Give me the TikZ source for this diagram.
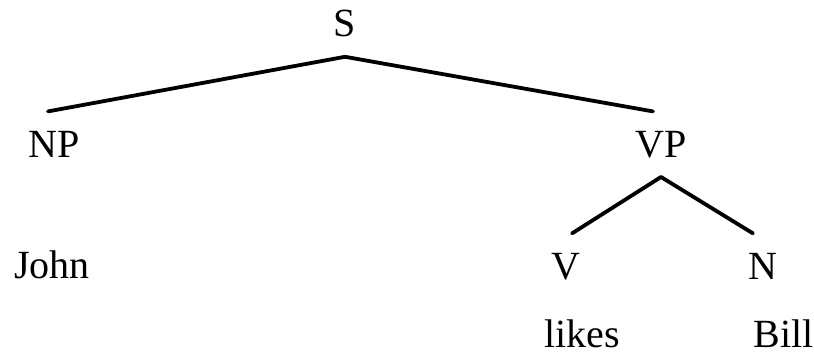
\documentclass[tikz,border=0pt]{standalone}
\usepackage{fontspec}
\setmainfont{Liberation Serif}
\tikzset{
  cat/.style={anchor=base, inner sep=9.5pt, font=\fontsize{20}{24}\selectfont},
  branch/.style={line width=1.9pt, line cap=round}
}
\begin{document}
\begin{tikzpicture}[x=0.5pt, y=-0.5pt]
  \useasboundingbox (0,0) rectangle (814,353);
  % Categories
  \node[cat] (S) at (345,37) {S};
  \node[cat] (NP) at (54,157) {NP};
  \node[cat] (VP) at (661,157) {VP};
  \node[cat] (V) at (566,279) {V};
  \node[cat] (N) at (763,279) {N};

  % Words
  \node[cat] (john) at (52,278) {John};
  \node[cat] (likes) at (582,347) {likes};
  \node[cat] (bill) at (784,347) {Bill};

  % Branches
  \draw[branch] (S.south) -- ([xshift=-3pt]NP.north);
  \draw[branch] (S.south) -- ([xshift=-4pt]VP.north);
  \draw[branch] (VP.south) -- ([xshift=3pt]V.north);
  \draw[branch] (VP.south) -- ([xshift=-5pt]N.north);
\end{tikzpicture}
\end{document}
